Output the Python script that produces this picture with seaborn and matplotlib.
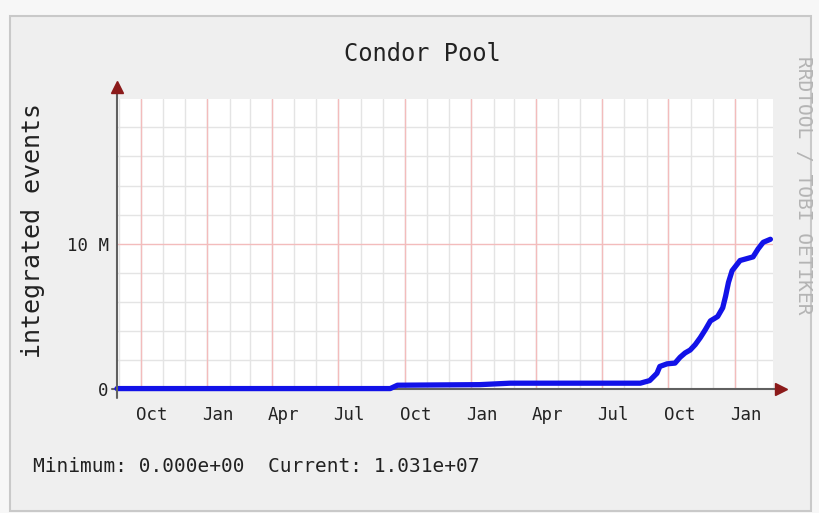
import matplotlib
matplotlib.use("Agg")
import matplotlib.pyplot as plt
import matplotlib.dates as mdates
from matplotlib.ticker import MultipleLocator, FuncFormatter
from matplotlib.patches import Rectangle
import seaborn as sns
import pandas as pd
import numpy as np

# ---- data ----
dates = ["2004-08-29", "2005-09-11", "2005-09-21", "2006-01-13", "2006-02-24",
         "2006-08-23", "2006-09-05", "2006-09-15", "2006-09-19", "2006-09-29",
         "2006-10-10", "2006-10-17", "2006-10-24", "2006-10-31", "2006-11-07",
         "2006-11-14", "2006-11-21", "2006-11-28", "2006-12-08", "2006-12-15",
         "2006-12-19", "2006-12-23", "2006-12-28", "2007-01-08", "2007-01-26",
         "2007-02-02", "2007-02-09", "2007-02-19"]
events_millions = [0.05, 0.05, 0.28, 0.32, 0.42,
                   0.42, 0.60, 1.10, 1.57, 1.75,
                   1.80, 2.20, 2.50, 2.70, 3.07,
                   3.55, 4.10, 4.70, 5.00, 5.60,
                   6.40, 7.35, 8.15, 8.85, 9.10,
                   9.65, 10.10, 10.31]

title = "Condor Pool"
y_label = "integrated events"
credit = "RRDTOOL / TOBI OETIKER"
legend_text = "Minimum: 0.000e+00  Current: 1.031e+07"
x_start, x_end = "2004-08-29", "2007-02-23"
y_max = 19.95e6

# ---- style ----
sns.set_theme(style="white")
plt.rcParams['font.family'] = ['DejaVu Sans Mono', 'DejaVu Sans']

W, H = 819, 513
fig = plt.figure(figsize=(W / 100, H / 100), dpi=100, facecolor="#f7f7f7")

# canvas frame
frame = Rectangle((10 / W, 2 / H), 801 / W, (511 - 16) / H,
                  transform=fig.transFigure, facecolor="#efefef",
                  edgecolor="#c9c9c9", lw=1.5, zorder=-10)
fig.add_artist(frame)

ax = fig.add_axes([117 / W, 1 - 389.3 / H, (773.3 - 117) / W, (389.3 - 99) / H])
ax.set_zorder(5)
ax.set_facecolor("white")

df = pd.DataFrame({"date": pd.to_datetime(dates),
                   "events": np.array(events_millions) * 1e6})

sns.lineplot(data=df, x="date", y="events", ax=ax, color="#1212e8",
             lw=3.8, zorder=6, clip_on=False)

ax.set_xlim(pd.Timestamp(x_start), pd.Timestamp(x_end))
ax.set_ylim(0, y_max)

# x axis: monthly gray grid, quarterly red grid, labels at mid-month
ax.xaxis.set_minor_locator(mdates.MonthLocator())
ax.xaxis.set_major_locator(mdates.MonthLocator(bymonth=[1, 4, 7, 10], bymonthday=16))
ax.xaxis.set_major_formatter(mdates.DateFormatter("%b"))
for q in pd.date_range(x_start, x_end, freq="QS"):
    ax.axvline(q, color="#f3bcbc", lw=1.0, zorder=2)

# y axis
ax.yaxis.set_major_locator(MultipleLocator(10e6))
ax.yaxis.set_minor_locator(MultipleLocator(2e6))
ax.yaxis.set_major_formatter(FuncFormatter(lambda v, _: "0" if v == 0 else f"{v / 1e6:.0f} M"))

ax.grid(which="minor", axis="both", color="#e4e4e4", lw=1.0, zorder=1)
ax.grid(which="major", axis="y", color="#f3bcbc", lw=1.0, zorder=2)
ax.xaxis.grid(False, which="major")
ax.set_axisbelow(True)

ax.tick_params(axis="x", which="major", length=0, pad=12, labelsize=12.5, labelcolor="#222222")
ax.tick_params(axis="y", which="major", length=0, pad=6, labelsize=12.5, labelcolor="#222222")
ax.tick_params(which="minor", length=4, width=1, color="#b8b8b8", direction="inout")
ax.set_xlabel("")
ax.set_ylabel("")
for s in ax.spines.values():
    s.set_visible(False)

# axis lines with arrow heads
ax.plot([0, 0], [-0.03, 1.035], transform=ax.transAxes, color="#606060", lw=1.5,
        clip_on=False, zorder=7)
ax.plot([-0.008, 1.005], [0, 0], transform=ax.transAxes, color="#606060", lw=1.5,
        clip_on=False, zorder=5)
ax.plot([0], [1.04], marker="^", ms=8, color="#8b1a1a", transform=ax.transAxes,
        clip_on=False, zorder=8)
ax.plot([1.012], [0], marker=">", ms=8, color="#8b1a1a", transform=ax.transAxes,
        clip_on=False, zorder=8)

# texts
fig.text(422 / W, 1 - 54 / H, title, fontsize=17, ha="center", va="center", color="#222222")
fig.text(33 / W, 1 - 231 / H, y_label, fontsize=18, rotation=90, ha="center",
         va="center", color="#222222")
fig.text(803 / W, 1 - 185 / H, credit, fontsize=14, rotation=270, ha="center",
         va="center", color="#b4b4b4")
fig.text(33 / W, 1 - 466 / H, legend_text, fontsize=14, ha="left", va="center",
         color="#222222")

fig.savefig("out.png", dpi=100, facecolor=fig.get_facecolor())
